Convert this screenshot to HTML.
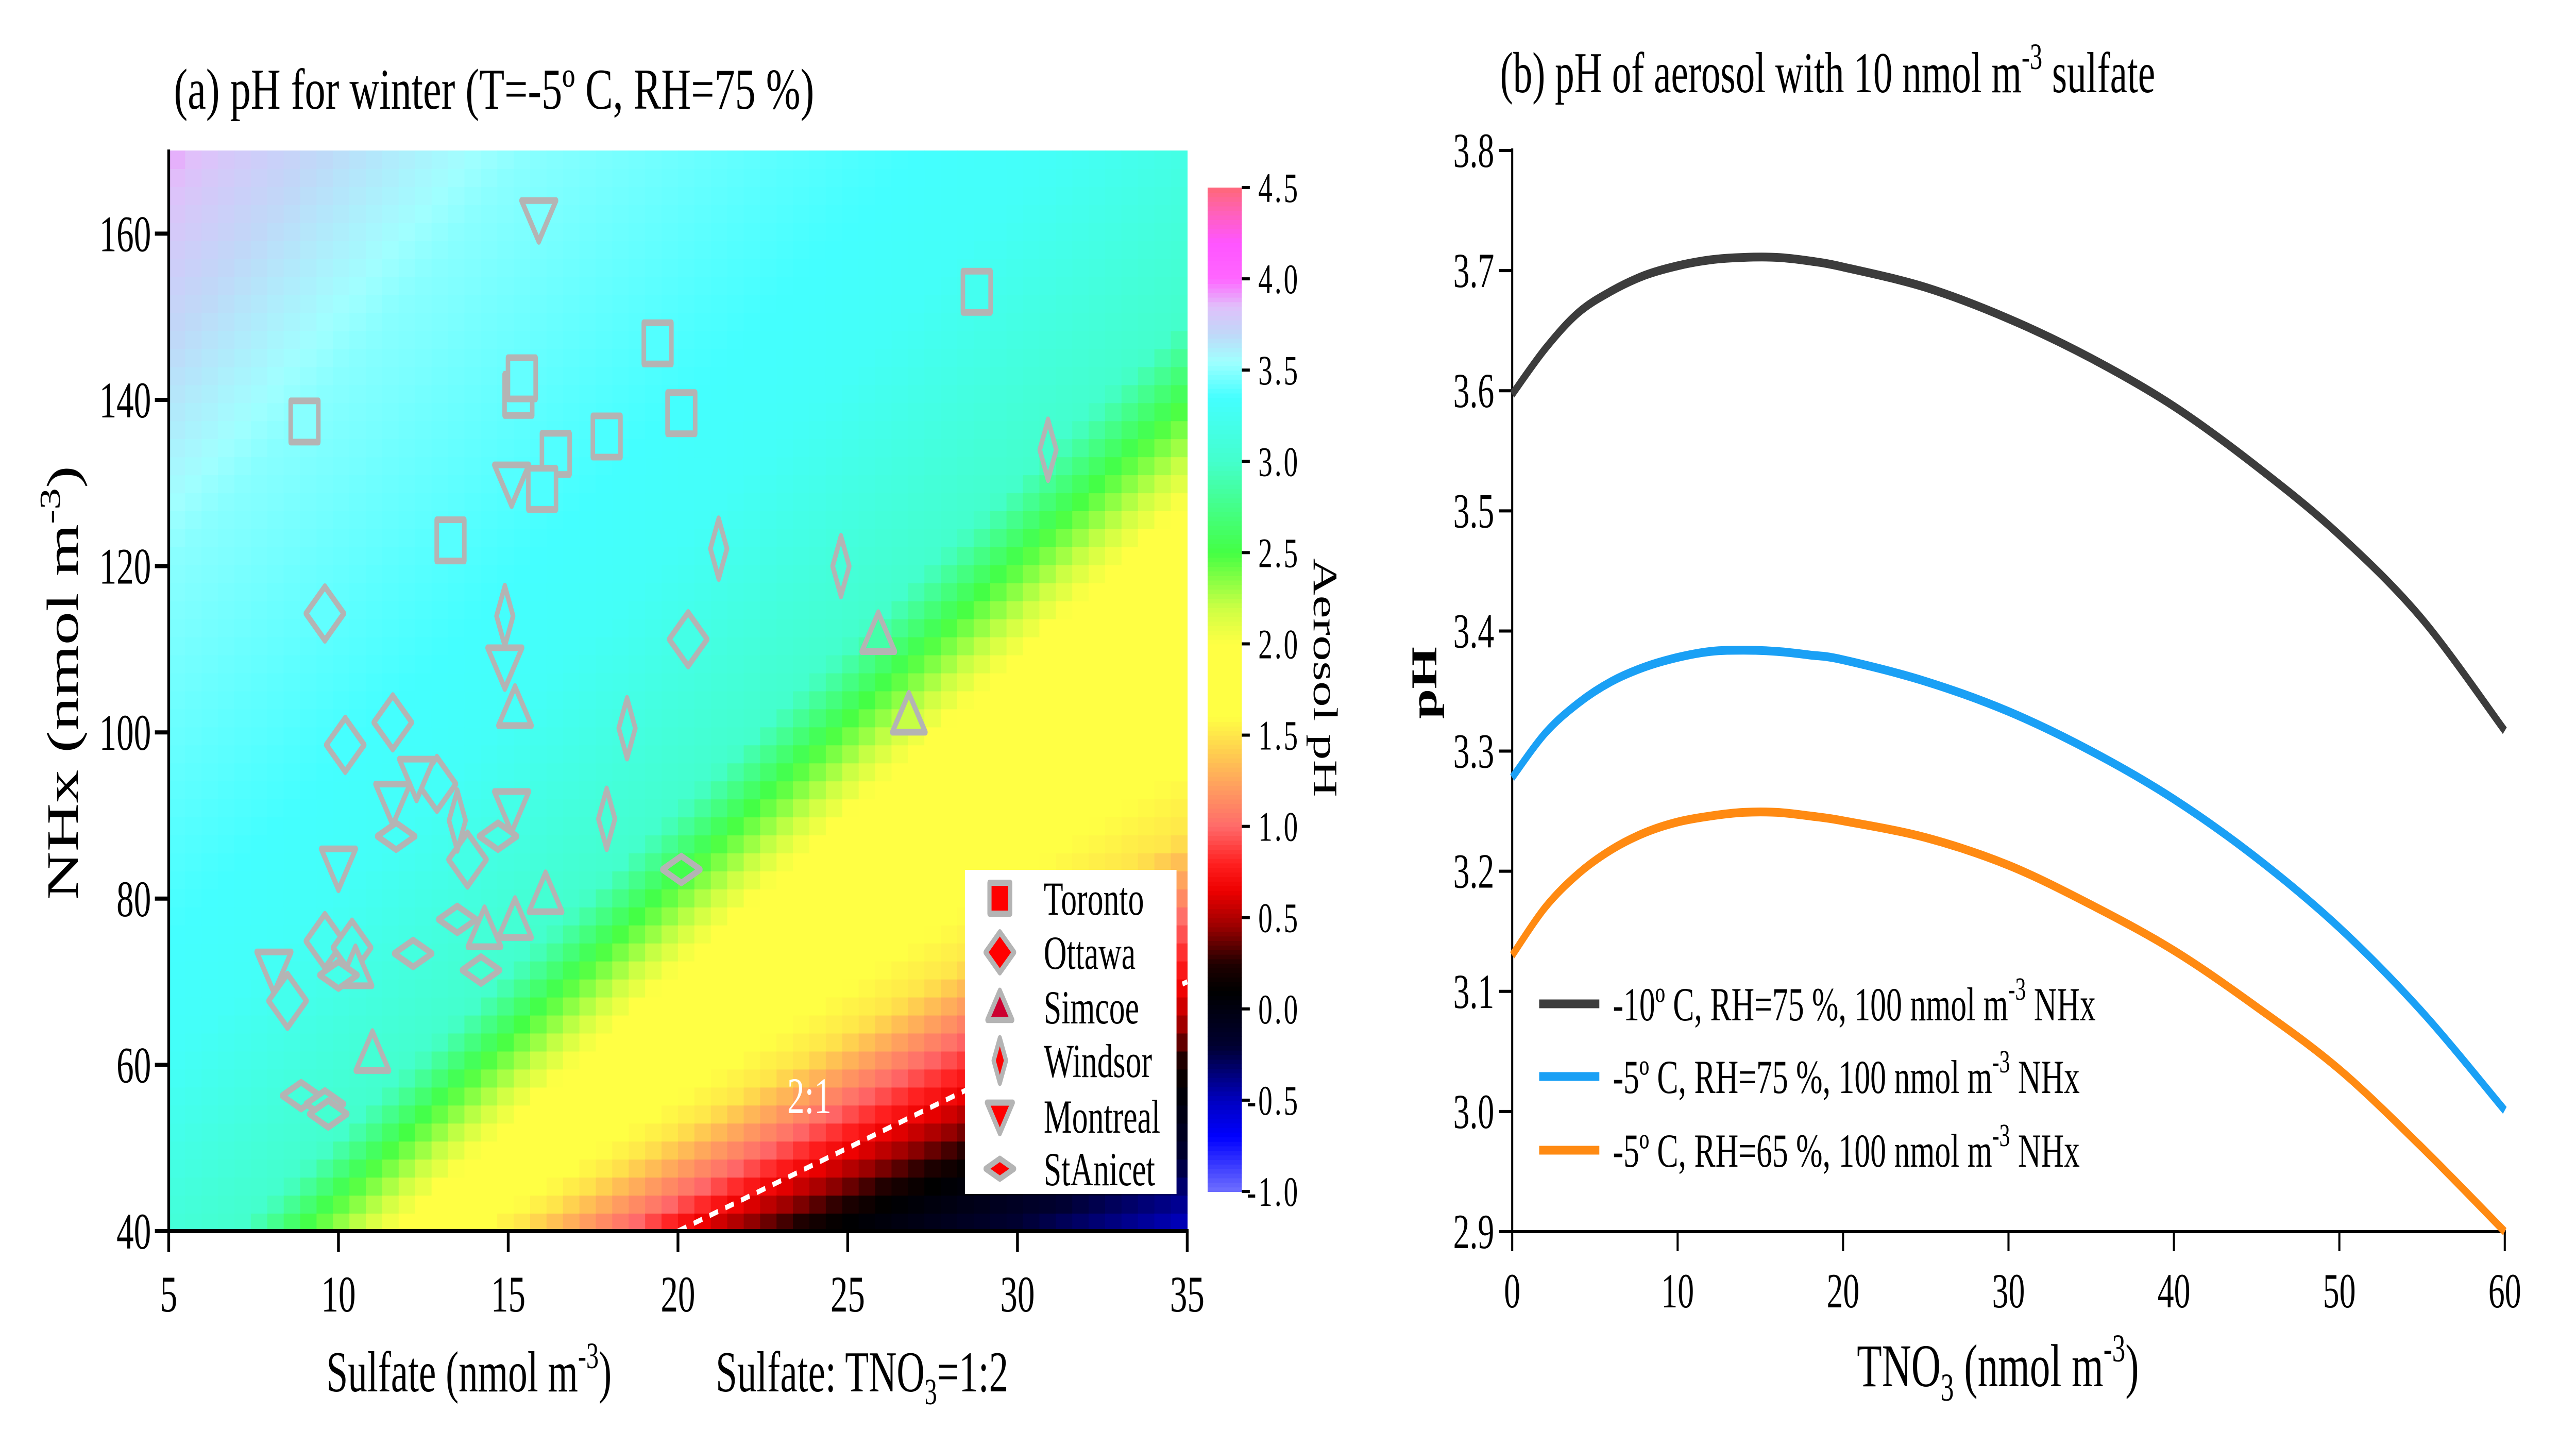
<!DOCTYPE html>
<html><head><meta charset="utf-8">
<style>
html,body{margin:0;padding:0;background:#fff;width:100%;height:100%;overflow:hidden;}
svg{display:block;font-family:"Liberation Serif",serif;width:100vw;height:100vh;}
</style></head>
<body>
<svg id="fig" xmlns="http://www.w3.org/2000/svg" viewBox="0 0 7451 2806" preserveAspectRatio="none">
<rect x="0" y="0" width="7451" height="2806" fill="#fff"/>
<g id="heat"></g>
<g id="ratioLine"></g>
<g id="pts"></g>
<g id="axA"></g>
<g id="cbar"></g>
<g id="legA"></g>
<g id="axB"></g>
<g id="linesB"></g>
<g id="legB"></g>

<text x="503" y="211" font-size="112" textLength="1852" lengthAdjust="spacingAndGlyphs">(a) pH for winter (T=-5º C, RH=75 %)</text>
<text x="4339" y="179" font-size="112">(b) pH of aerosol with 10 nmol m<tspan dy="-45" font-size="72">-3</tspan><tspan dy="45"> sulfate</tspan></text>
<text x="944" y="2700" font-size="112">Sulfate (nmol m<tspan dy="-45" font-size="72">-3</tspan><tspan dy="45">)</tspan></text>
<text x="2070" y="2700" font-size="112">Sulfate: TNO<tspan dy="25" font-size="72">3</tspan><tspan dy="-25">=1:2</tspan></text>
<text transform="translate(225,1325) rotate(-90)" text-anchor="middle" font-size="130">NHx (nmol m<tspan dy="-52" font-size="84">-3</tspan><tspan dy="52">)</tspan></text>
<text transform="translate(3800,1315) rotate(90)" text-anchor="middle" font-size="100">Aerosol pH</text>
<text x="2341" y="2160" text-anchor="middle" font-size="100" fill="#fff">2:1</text>
<text x="5371" y="2690" font-size="118">TNO<tspan dy="28" font-size="76">3</tspan><tspan dy="-28"> (nmol m</tspan><tspan dy="-48" font-size="76">-3</tspan><tspan dy="48">)</tspan></text>
<text transform="translate(4155,1325) rotate(-90)" text-anchor="middle" font-size="105" font-weight="bold">pH</text>
</svg>
<script>
// ---------- Panel (a) heatmap contour data ----------
const phLevels = [0.1, 0.6, 1.0, 1.5, 2.0, 2.5, 3.0, 3.3, 3.5, 3.8];
const levelLeftNHx = [8, 10, 9.7, 16, 15.5, 25, 32, 60, 120, 160];
const levelRightNHx = [58, 68, 78, 88, 128, 140, 150, 185, 260, 320];
// ---------- colour map ----------
const cmapValues = [-1.0,-0.7,-0.5,-0.2,0.1,0.25,0.45,0.65,0.8,1.0,1.2,1.4,1.6,2.0,2.2,2.5,2.75,3.0,3.35,3.55,3.7,3.85,4.0,4.2,4.35,4.5];
const cmapColors = ['#7070ff','#0000ff','#0000c0','#000030','#000000','#200000','#990000','#ee0000','#ff2020','#ff6a6a','#ff9a60','#ffcc50','#ffff44','#ffff44','#ccff44','#44ff44','#44ff88','#44ffcc','#44ffff','#a0ffff','#c0d8f8','#e0c0fa','#ff66ff','#ff55ff','#ff60c0','#ff6878'];
const cbarTicks = [4.5,4.0,3.5,3.0,2.5,2.0,1.5,1.0,0.5,0.0,-0.5,-1.0];
// ---------- site scatter data ----------
const torontoX = [9.0,13.3,15.3,15.4,16.4,16.0,17.9,19.4,20.1,28.8];
const torontoY = [137.4,123.1,140.6,142.6,133.5,129.3,135.6,146.8,138.4,153.0];
const ottawaX = [9.6,10.2,11.6,12.9,13.8,9.6,10.4,8.5,20.3];
const ottawaY = [114.3,98.5,101.2,93.8,84.7,74.9,74.1,67.7,111.2];
const simcoeX = [15.2,16.1,14.3,15.2,11.0,10.5,25.9,26.8];
const simcoeY = [102.9,80.5,76.3,77.4,61.4,71.6,111.8,102.1];
const windsorX = [14.9,13.5,18.5,17.9,21.2,24.8,30.9];
const windsorY = [114,89.4,100.5,89.6,122.1,120,134];
const montrealX = [15.9,15.1,14.9,12.3,11.6,15.1,10.0,8.1];
const montrealY = [161.8,130,108,94.6,91.6,90.7,83.8,71.4];
const stanicetX = [11.7,14.7,12.2,13.5,14.2,10.0,20.1,8.9,9.6,9.7];
const stanicetY = [87.5,87.5,73.4,77.5,71.4,70.8,83.5,56.3,55.3,54.1];
const siteNames = ['Toronto','Ottawa','Simcoe','Windsor','Montreal','StAnicet'];
const xTicksA = [5,10,15,20,25,30,35];
const yTicksA = [40,60,80,100,120,140,160];
// ---------- Panel (b) data ----------
const tno3 = [0,2,4,6,8,10,12,14,16,18,20,25,30,35,40,45,50,55,60];
const phMinus10RH75 = [3.597,3.635,3.665,3.683,3.696,3.704,3.709,3.711,3.711,3.708,3.703,3.686,3.660,3.627,3.587,3.537,3.480,3.410,3.317];
const phMinus5RH75 = [3.278,3.315,3.340,3.358,3.370,3.378,3.383,3.384,3.383,3.380,3.376,3.358,3.333,3.300,3.260,3.211,3.153,3.083,3.001];
const phMinus5RH65 = [3.130,3.170,3.198,3.218,3.232,3.241,3.246,3.249,3.249,3.246,3.242,3.228,3.205,3.172,3.134,3.087,3.035,2.970,2.900];
const seriesLabels = ['-10º C, RH=75 %, 100 nmol m','-5º C, RH=75 %, 100 nmol m','-5º C, RH=65 %, 100 nmol m'];
const xTicksB = [0,10,20,30,40,50,60];
const yTicksB = [2.9,3.0,3.1,3.2,3.3,3.4,3.5,3.6,3.7,3.8];

const NS='http://www.w3.org/2000/svg';
function mk(tag, attrs, parent){const e=document.createElementNS(NS,tag);for(const k in attrs)e.setAttribute(k,attrs[k]);if(parent)parent.appendChild(e);return e;}
const AX0=488,AX1=3434,AYB=2389;
const xa=v=>AX0+(v-5)/30*(AX1-AX0);
const ya=v=>AYB-(v-40)*16.13;
const BX0=4374,BX1=7245,BYB=2390,BYT=292;
const xb=v=>BX0+v/60*(BX1-BX0);
const yb=v=>BYB-(v-2.9)/0.9*(BYB-BYT);
const CY0=2312,CY1=364;
const yc=v=>CY0-(v+1)/5.5*(CY0-CY1);

function hex2rgb(h){return [parseInt(h.substr(1,2),16),parseInt(h.substr(3,2),16),parseInt(h.substr(5,2),16)];}
function cmap(v){
  if(v<=cmapValues[0])return cmapColors[0];
  const n=cmapValues.length;
  if(v>=cmapValues[n-1])return cmapColors[n-1];
  for(let i=0;i<n-1;i++){
    if(v<=cmapValues[i+1]){
      const t=(v-cmapValues[i])/(cmapValues[i+1]-cmapValues[i]);
      const a=hex2rgb(cmapColors[i]),b=hex2rgb(cmapColors[i+1]);
      return 'rgb('+a.map((c,j)=>Math.round(c+(b[j]-c)*t)).join(',')+')';
    }
  }
}
function phAt(x,y){
  const lines=phLevels.map((L,i)=>levelLeftNHx[i]+(levelRightNHx[i]-levelLeftNHx[i])*(x-5)/30);
  let k=-1;
  for(let i=0;i<lines.length;i++){if(y>=lines[i])k=i;}
  if(k<0)return Math.max(-0.6,phLevels[0]-(lines[0]-y)*0.035);
  if(k===lines.length-1)return phLevels[k]+(y-lines[k])/100;
  return phLevels[k]+(y-lines[k])/(lines[k+1]-lines[k])*(phLevels[k+1]-phLevels[k]);
}
const heat=document.getElementById('heat');
const NC=62,NR=60;
for(let i=0;i<NC;i++){
  for(let j=0;j<NR;j++){
    const x0=5+30*i/NC,x1=5+30*(i+1)/NC;
    const y0=40+130*j/NR,y1=40+130*(j+1)/NR;
    const r=mk('rect',{x:xa(x0).toFixed(1),y:ya(y1).toFixed(1),width:(xa(x1)-xa(x0)+1).toFixed(1),height:(ya(y0)-ya(y1)+1).toFixed(1),fill:cmap(phAt((x0+x1)/2,(y0+y1)/2))},heat);
    
    
  }
}
const rl=mk('line',{x1:xa(20),y1:ya(40),x2:xa(35),y2:ya(70),stroke:'#fff','stroke-width':10,'stroke-dasharray':'26 22'},document.getElementById('ratioLine'));



function shapePts(kind,cx,cy,s){
  switch(kind){
    case 0:{const h=40*s;return [[cx-h,cy-h],[cx+h,cy-h],[cx+h,cy+h],[cx-h,cy+h]];}
    case 1:{const w=55*s,h=52*s;return [[cx,cy-h],[cx+w,cy],[cx,cy+h],[cx-w,cy]];}
    case 2:{const w=48*s,h=42*s;return [[cx,cy-h],[cx+w,cy+h*0.8],[cx-w,cy+h*0.8]];}
    case 3:{const w=24*s,h=58*s;return [[cx,cy-h],[cx+w,cy],[cx,cy+h],[cx-w,cy]];}
    case 4:{const w=50*s,h=44*s;return [[cx-w,cy-h*0.8],[cx+w,cy-h*0.8],[cx,cy+h]];}
    case 5:{const w=55*s,h=26*s;return [[cx,cy-h],[cx+w,cy],[cx,cy+h],[cx-w,cy]];}
  }
}
const pts=document.getElementById('pts');
const siteX=[torontoX,ottawaX,simcoeX,windsorX,montrealX,stanicetX];
const siteY=[torontoY,ottawaY,simcoeY,windsorY,montrealY,stanicetY];
siteX.forEach((xs,k)=>{
  xs.forEach((xv,i)=>{
    const yv=siteY[k][i];
    const p=mk('polygon',{points:shapePts(k,xa(xv),ya(yv),1).map(q=>q.map(n=>n.toFixed(1)).join(',')).join(' '),fill:cmap(phAt(xv,yv)),stroke:'#b4b4b4','stroke-width':13,'stroke-linejoin':'round'},pts);
    
    
  });
});

const axA=document.getElementById('axA');
mk('line',{x1:AX0,y1:ya(170)-2,x2:AX0,y2:AYB+4,stroke:'#000','stroke-width':8},axA);
mk('line',{x1:AX0-4,y1:AYB,x2:AX1+4,y2:AYB,stroke:'#000','stroke-width':8},axA);
xTicksA.forEach(v=>{
  mk('line',{x1:xa(v),y1:AYB,x2:xa(v),y2:AYB+40,stroke:'#000','stroke-width':8},axA);
  const t=mk('text',{x:xa(v),y:2545,'text-anchor':'middle','font-size':100},axA);t.textContent=v;
  
  
});
yTicksA.forEach(v=>{
  mk('line',{x1:AX0-40,y1:ya(v),x2:AX0,y2:ya(v),stroke:'#000','stroke-width':8},axA);
  const t=mk('text',{x:437,y:ya(v)+34,'text-anchor':'end','font-size':100},axA);t.textContent=v;
  
  
});

const cb=document.getElementById('cbar');
for(let i=0;i<220;i++){
  const v0=-1+5.5*i/220,v1=-1+5.5*(i+1)/220;
  const r=mk('rect',{x:3493,y:yc(v1).toFixed(1),width:99,height:(yc(v0)-yc(v1)+1).toFixed(1),fill:cmap((v0+v1)/2)},cb);
  
  
}
cbarTicks.forEach(v=>{
  mk('line',{x1:3592,y1:yc(v),x2:3615,y2:yc(v),stroke:'#000','stroke-width':6},cb);
  const t=mk('text',{x:3760,y:yc(v)+28,'text-anchor':'end','font-size':82,'letter-spacing':6},cb);
  t.textContent=v.toFixed(1);
  
  
});

const legA=document.getElementById('legA');
mk('rect',{x:2791,y:1688,width:612,height:629,fill:'#fff'},legA);
const legRowsA=[1743,1848,1954,2058,2166,2268];
const legFill=['#ff0000','#ff0000','#cc0030','#ff0000','#ff0000','#ff0000'];
siteNames.forEach((nm,k)=>{
  const p=mk('polygon',{points:shapePts(k,2892,legRowsA[k],0.75).map(q=>q.map(n=>n.toFixed(1)).join(',')).join(' '),fill:legFill[k],stroke:'#b4b4b4','stroke-width':12,'stroke-linejoin':'round'},legA);
  
  
  const t=mk('text',{x:3019,y:legRowsA[k]+32,'font-size':92},legA);t.textContent=nm;
  
  
});

const axB=document.getElementById('axB');
mk('line',{x1:BX0,y1:BYT-4,x2:BX0,y2:BYB+3,stroke:'#000','stroke-width':6},axB);
mk('line',{x1:BX0-3,y1:BYB,x2:BX1+3,y2:BYB,stroke:'#000','stroke-width':6},axB);
xTicksB.forEach(v=>{
  mk('line',{x1:xb(v),y1:BYB,x2:xb(v),y2:BYB+38,stroke:'#000','stroke-width':6},axB);
  const t=mk('text',{x:xb(v),y:2537,'text-anchor':'middle','font-size':95},axB);t.textContent=v;
  
  
});
yTicksB.forEach(v=>{
  mk('line',{x1:BX0-38,y1:yb(v),x2:BX0,y2:yb(v),stroke:'#000','stroke-width':6},axB);
  const t=mk('text',{x:4322,y:yb(v)+32,'text-anchor':'end','font-size':95},axB);t.textContent=v.toFixed(1);
  
  
});
// smooth path through points (Catmull-Rom -> cubic Bezier)
function smoothPath(P){
  let d='M'+P[0][0].toFixed(1)+','+P[0][1].toFixed(1);
  for(let i=0;i<P.length-1;i++){
    const p0=P[Math.max(0,i-1)],p1=P[i],p2=P[i+1],p3=P[Math.min(P.length-1,i+2)];
    const c1=[p1[0]+(p2[0]-p0[0])/6,p1[1]+(p2[1]-p0[1])/6];
    const c2=[p2[0]-(p3[0]-p1[0])/6,p2[1]-(p3[1]-p1[1])/6];
    d+=' C'+c1.map(n=>n.toFixed(1)).join(',')+' '+c2.map(n=>n.toFixed(1)).join(',')+' '+p2[0].toFixed(1)+','+p2[1].toFixed(1);
  }
  return d;
}
const linesB=document.getElementById('linesB');
const series=[phMinus10RH75,phMinus5RH75,phMinus5RH65];
const sColors=['#3c3c3c','#1aa0f5','#ff8a12'];
const sNames=['line-minus10c-rh75','line-minus5c-rh75','line-minus5c-rh65'];
series.forEach((s,k)=>{
  const P=s.map((v,i)=>[xb(tno3[i]),yb(v)]);
  const p=mk('path',{d:smoothPath(P),fill:'none',stroke:sColors[k],'stroke-width':17,'stroke-linejoin':'round'},linesB);
  
  
});
const legB=document.getElementById('legB');
const legRowsB=[1948,2089,2232];
seriesLabels.forEach((lb,k)=>{
  const l=mk('line',{x1:4452,y1:legRowsB[k],x2:4626,y2:legRowsB[k],stroke:sColors[k],'stroke-width':17},legB);
  
  
  const t=mk('text',{x:4665,y:legRowsB[k]+32,'font-size':92},legB);
  
  
  t.appendChild(document.createTextNode(lb));
  const s1=mk('tspan',{dy:-40,'font-size':62},t);s1.textContent='-3';
  const s2=mk('tspan',{dy:40},t);s2.textContent=' NHx';
});
</script>
</body></html>
